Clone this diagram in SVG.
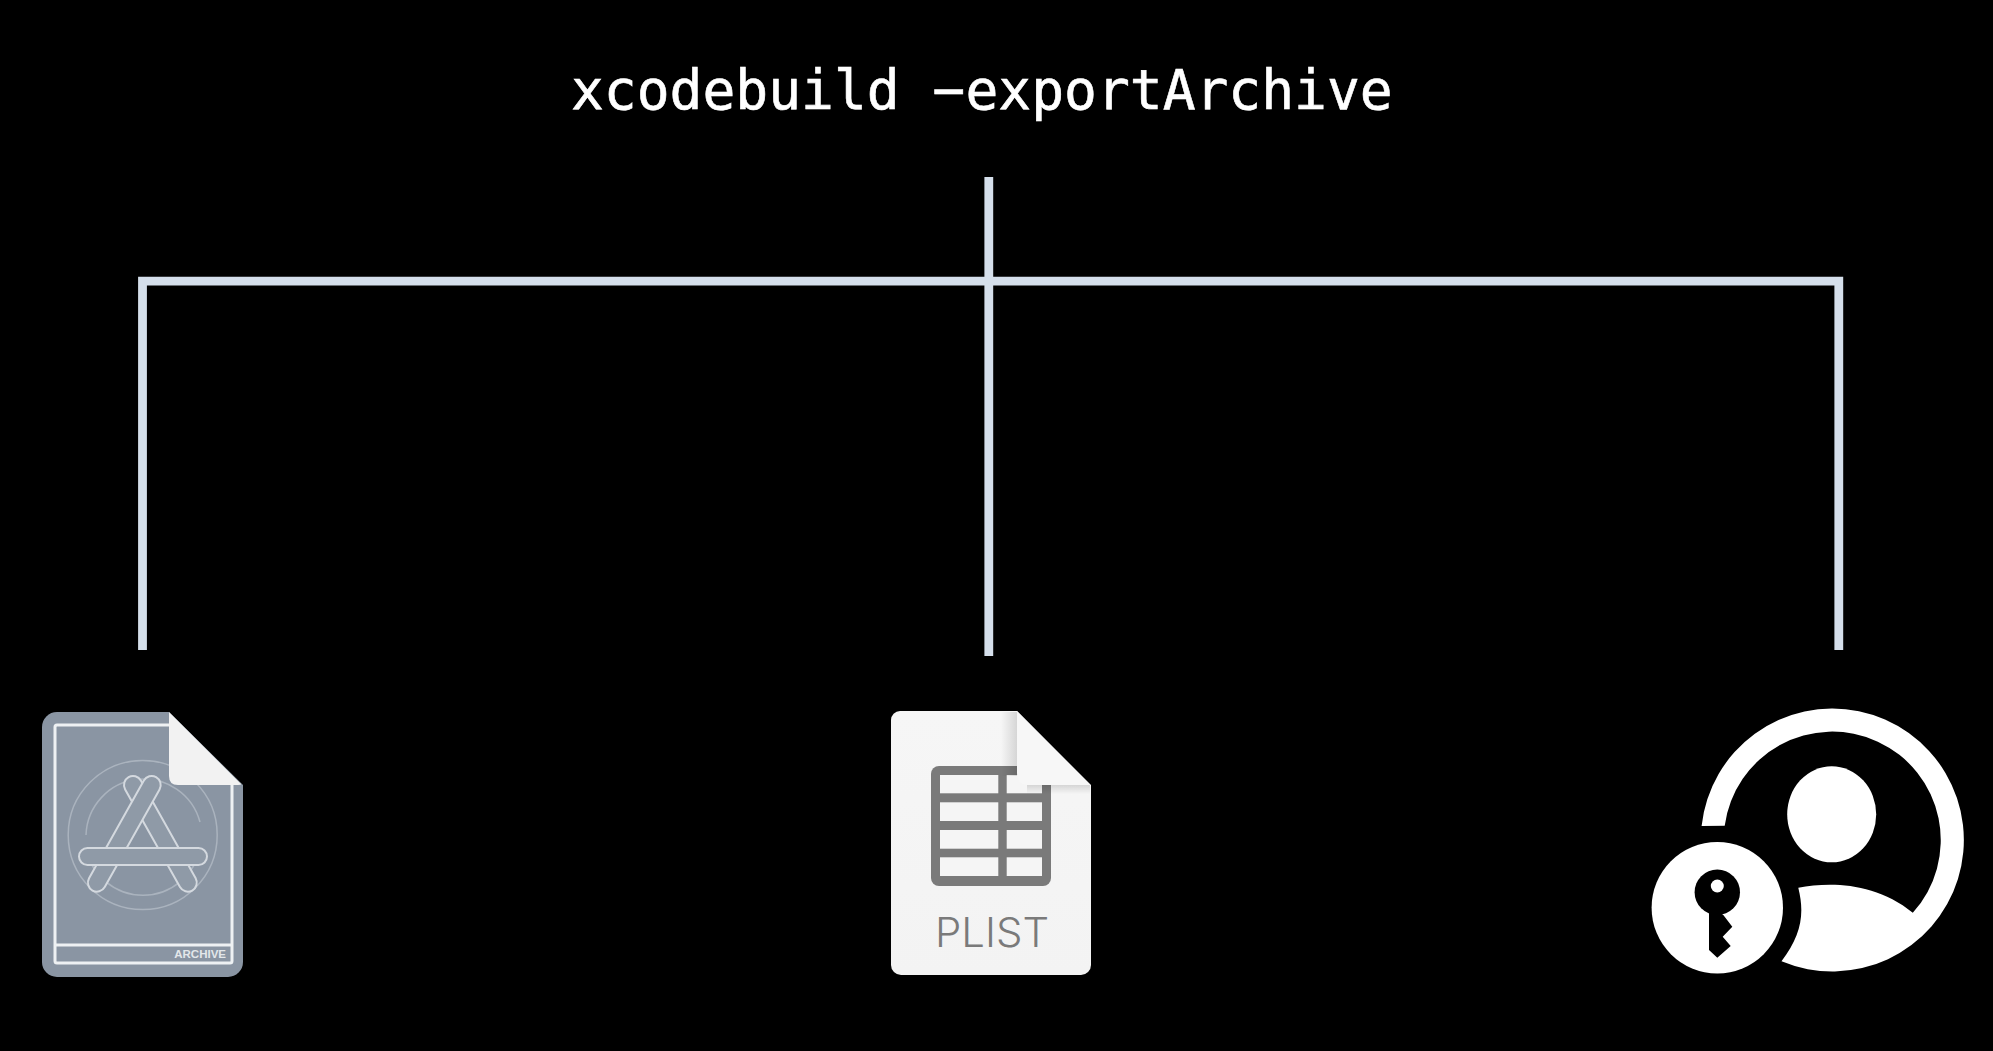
<svg xmlns="http://www.w3.org/2000/svg" width="1993" height="1051" viewBox="0 0 1993 1051">
<style>
.conn{fill:none;stroke:#d5dfeb;stroke-width:8.800}
.cmd{font-family:"DejaVu Sans Mono",monospace;font-size:54.600px;fill:#fff;stroke:#fff;stroke-width:.6}
.fr{fill:none;stroke:#eef1f3;stroke-width:3}
.thin{fill:none;stroke:#aab3be;stroke-width:1.500}
.bar{fill:#8f9aa7;stroke:#d4d9df;stroke-width:2}
.tbl{fill:#f5f5f5}
</style>
<defs>
<linearGradient id="pg" x1="0" y1="0" x2="0" y2="1"><stop offset="0" stop-color="#f6f6f6"/><stop offset="1" stop-color="#f3f3f3"/></linearGradient>
<linearGradient id="sh" x1="0" y1="0" x2="1" y2="0"><stop offset="0" stop-color="#000" stop-opacity="0"/><stop offset="1" stop-color="#000" stop-opacity=".13"/></linearGradient>
<linearGradient id="sh2" x1="0" y1="0" x2="0" y2="1"><stop offset="0" stop-color="#000" stop-opacity=".13"/><stop offset="1" stop-color="#000" stop-opacity="0"/></linearGradient>
</defs>
<rect width="1993" height="1051" fill="#000"/>
<g id="title"><text class="cmd" x="571" y="109">xcodebuild −exportArchive</text></g>
<g id="connectors">
<path class="conn" d="M988.800 177V656"/>
<path class="conn" d="M142.500 650V281.200H1838.800V650"/>
</g>
<g id="archive">
<path d="M57 712H169L243 785V962a15 15 0 0 1-15 15H57a15 15 0 0 1-15-15V727a15 15 0 0 1 15-15Z" fill="#8a95a3"/>
<path class="fr" d="M172 725H57Q55 725 55 727V961Q55 963 57 963H230Q232 963 232 961V780M55 945H232"/>
<circle class="thin" cx="142.700" cy="835" r="74.500"/>
<path class="thin" d="M86 835A58 58 0 0 1 200 822M200 848A58 58 0 0 1 86 848"/>
<g>
<rect class="bar" x="-9" y="-9" width="130" height="18" rx="9" transform="translate(133 785) rotate(60.700)"/>
<rect class="bar" x="-9" y="-9" width="130" height="18" rx="9" transform="translate(151.700 785) rotate(119.300)"/>
<rect class="bar" x="79" y="848" width="128" height="17" rx="8.500"/>
</g>
<path d="M169 712L240 783Q243 785 238 785H178Q169 785 169 776Z" fill="#f2f2f2"/>
<text x="226" y="958" text-anchor="end" font-family="Liberation Sans,sans-serif" font-size="11.500" font-weight="700" fill="#e3e7ea">ARCHIVE</text>
</g>
<g id="plist">
<path d="M900 711H1017L1091 785V965a10 10 0 0 1-10 10H901a10 10 0 0 1-10-10V720a9 9 0 0 1 9-9Z" fill="url(#pg)"/>
<rect x="931" y="766" width="120" height="120" rx="8" fill="#7a7a7a"/>
<rect class="tbl" x="940" y="775" width="58.300" height="18.300"/><rect class="tbl" x="1006.700" y="775" width="35.300" height="18.300"/>
<rect class="tbl" x="940" y="802.300" width="58.300" height="18.700"/><rect class="tbl" x="1006.700" y="802.300" width="35.300" height="18.700"/>
<rect class="tbl" x="940" y="830" width="58.300" height="18.700"/><rect class="tbl" x="1006.700" y="830" width="35.300" height="18.700"/>
<rect class="tbl" x="940" y="857.300" width="58.300" height="18.700"/><rect class="tbl" x="1006.700" y="857.300" width="35.300" height="18.700"/>
<rect x="1001" y="712" width="16" height="64" fill="url(#sh)"/>
<rect x="1027" y="785" width="63" height="9" fill="url(#sh2)"/>
<path d="M1017 711L1088 783Q1091 785 1086 785H1029Q1017 785 1017 773Z" fill="#f7f7f7"/>
<text x="935" y="947" font-family="Inter,Roboto,sans-serif" font-weight="300" font-size="41" fill="#7a7a7a" textLength="114" lengthAdjust="spacingAndGlyphs">PLIST</text>
</g>
<g id="account">
<path fill="#fff" d="M1701.600 826A131.500 131.500 0 1 1 1781.500 961.300C1801 935 1805 915 1798.300 887.700C1830 882 1875 882 1912.800 912.800A108.500 108.500 0 1 0 1724.700 825.800Z"/>
<ellipse cx="1831.700" cy="814.300" rx="44.500" ry="48" fill="#fff"/>
<circle cx="1717.300" cy="907.700" r="65.700" fill="#fff"/>
<circle cx="1717.300" cy="892.300" r="22.700" fill="#000"/>
<path d="M1709 905L1723.300 915L1732.300 926.700L1722.700 936.700L1730.700 946L1717.300 957.700L1709 950Z" fill="#000"/>
<ellipse cx="1717.300" cy="886" rx="6.500" ry="6.500" fill="#fff"/>
</g>
</svg>
